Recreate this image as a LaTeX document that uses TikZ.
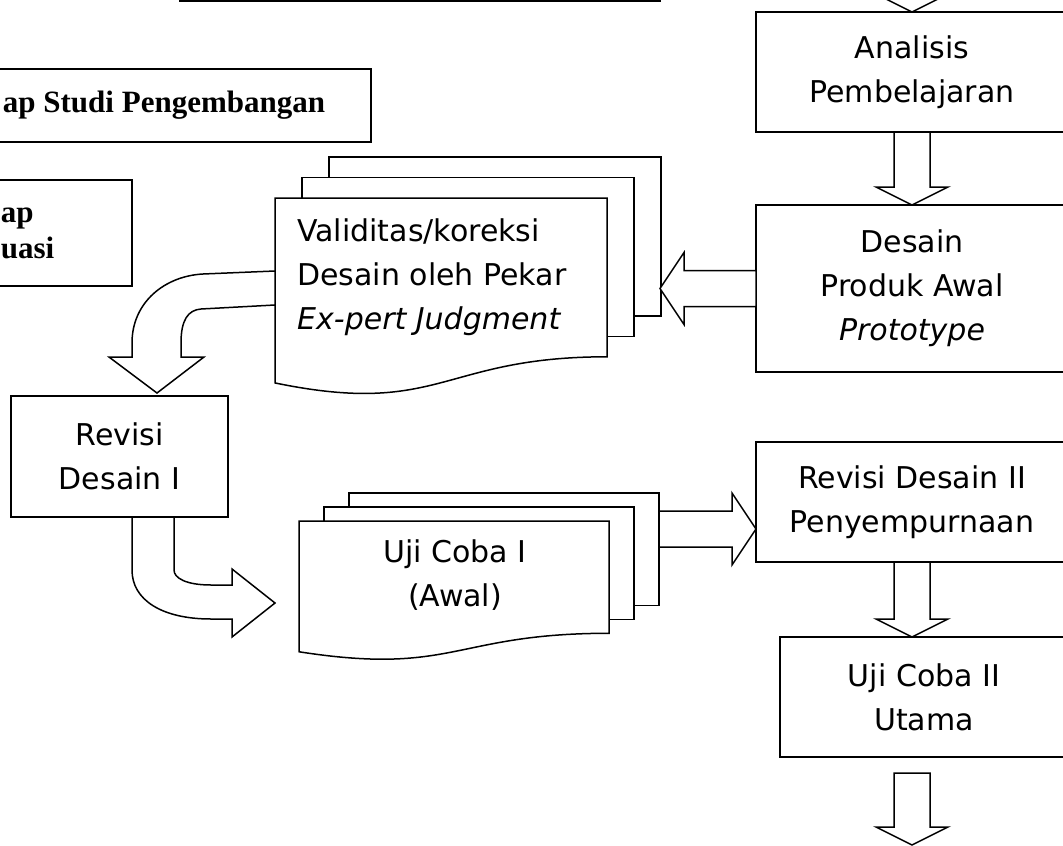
\documentclass[tikz,border=0pt]{standalone}
\usepackage{fontspec}
\setmainfont{Liberation Serif}
\newfontfamily\komik{DejaVu Sans}
\usetikzlibrary{positioning, calc}

\tikzstyle{kotak} = [rectangle, draw=black, line width=1.5pt, outer sep=0pt, align=center, font=\komik\fontsize{30}{44}\selectfont]
\tikzstyle{judul} = [rectangle, draw=black, line width=1.5pt, outer sep=0pt, align=left, font=\bfseries\fontsize{31}{36}\selectfont]
\tikzstyle{teks} = [inner sep=0pt, font=\komik\fontsize{30}{44}\selectfont]
\tikzstyle{blok} = [draw=black, line width=1.5pt, fill=white, line join=miter]
\tikzstyle{lembar} = [draw=black, line width=1.5pt, line join=miter]

% panah blok ke bawah: pangkal, ujung
\newcommand{\panahturun}[2]{%
  \draw[blok] ($(#1)+(-18,0)$) -- ($(#2)+(-18,-18)$) -- ($(#2)+(-36,-18)$) -- (#2)
    -- ($(#2)+(36,-18)$) -- ($(#2)+(18,-18)$) -- ($(#1)+(18,0)$) -- cycle;}
% panah blok mendatar: pangkal, ujung, arah (1 kanan, -1 kiri)
\newcommand{\panahdatar}[3]{%
  \draw[blok] ($(#1)+(0,-18)$) -- ($(#2)+({-24*(#3)},-18)$) -- ($(#2)+({-24*(#3)},-36)$) -- (#2)
    -- ($(#2)+({-24*(#3)},36)$) -- ($(#2)+({-24*(#3)},18)$) -- ($(#1)+(0,18)$) -- cycle;}
% tumpukan dokumen: x, y, lebar, tinggi, geser x, geser y
\newcommand{\tumpukan}[6]{%
  \draw[lembar] ({#1+2*#5},{#2-#6}) -- ({#1+2*#5},{#2-2*#6}) -- ({#1+#3+2*#5},{#2-2*#6})
    -- ({#1+#3+2*#5},{#2+0.802*#4-2*#6}) -- ({#1+#3+#5},{#2+0.802*#4-2*#6});
  \draw[lembar] ({#1+#5},#2) -- ({#1+#5},{#2-#6}) -- ({#1+#3+#5},{#2-#6})
    -- ({#1+#3+#5},{#2+0.802*#4-#6}) -- ({#1+#3},{#2+0.802*#4-#6});
  \draw[lembar] (#1,#2) -- ({#1+#3},#2) -- ({#1+#3},{#2+0.802*#4})
    .. controls ({#1+#3/2},{#2+0.802*#4}) and ({#1+#3/2},{#2+1.107*#4}) .. (#1,{#2+0.934*#4}) -- cycle;}

\begin{document}
\begin{tikzpicture}[x=1pt, y=-1pt]
    \useasboundingbox (0,0) rectangle (1063,846);
    \clip (0,0) rectangle (1063,846);

    % Kotak judul di kiri
    \node (atas) [judul, minimum width=480pt, minimum height=90pt] at (420,-44) {};
    \node (studi) [judul, minimum width=414pt, minimum height=73pt] at (164,105.5) {ap Studi Pengembangan};
    \node (evaluasi) [judul, minimum width=209pt, minimum height=106pt] at (27.5,233) {ap\\uasi};

    % Kolom kanan
    \node (analisis) [kotak, minimum width=312pt, minimum height=120pt] at (912,72) {Analisis\\Pembelajaran};
    \node (desain) [kotak, minimum width=312pt, minimum height=167pt, below=73pt of analisis] {Desain\\Produk Awal\\\textit{Prototype}};
    \node (revisi2) [kotak, minimum width=312pt, minimum height=120pt, below=70pt of desain] {Revisi Desain II\\Penyempurnaan};
    \node (uji2) [kotak, minimum width=288pt, minimum height=120pt, below=75pt of revisi2, xshift=12pt] {Uji Coba II\\Utama};

    % Kolom kiri
    \node (revisi1) [kotak, minimum width=217pt, minimum height=121pt] at (119.5,456.5) {Revisi\\Desain I};

    % Tumpukan dokumen
    \tumpukan{275}{198}{332}{198}{27}{20.5}
    \node (valid) [teks, align=left, anchor=west] at (297,277) {Validitas/koreksi\\Desain oleh Pekar\\\textit{Ex-pert Judgment}};
    \coordinate (valid-x) at (660,0);
    \coordinate (valid-kanan) at (desain.west -| valid-x);
    \tumpukan{299}{521}{310}{140}{25}{14}
    \node (uji1) [teks, align=center] at (455,575) {Uji Coba I\\(Awal)};
    \coordinate (uji1-kanan) at (659,529);

    % Panah lurus
    \coordinate (masuk) at ($(analisis.north)+(0,-60)$);
    \panahturun{masuk}{analisis.north}
    \panahturun{analisis.south}{desain.north}
    \panahdatar{desain.west}{valid-kanan}{-1}
    \coordinate (r2kiri) at (revisi2.west |- uji1-kanan);
    \panahdatar{uji1-kanan}{r2kiri}{1}
    \coordinate (u2atas) at (uji2.north -| revisi2.south);
    \panahturun{revisi2.south}{u2atas}
    \coordinate (bawah0) at (uji2.south -| revisi2.south);
    \coordinate (bawah1) at ($(bawah0)+(0,16)$);
    \coordinate (bawah2) at ($(bawah0)+(0,88)$);
    \panahturun{bawah1}{bawah2}

    % Panah lengkung
    \draw[blok] (275,271) -- (203,274) .. controls (165,276) and (132,302) .. (132,343) -- (132,357)
        -- (109,357) -- (157,393) -- (204,357) -- (181,357) -- (181,343)
        .. controls (181,320) and (188,310) .. (201,309) -- (275,305) -- cycle;
    \draw[blok] (132,517) -- (132,570) .. controls (132,600) and (162,619) .. (211,619) -- (232,619)
        -- (232,637) -- (275,603) -- (232,569) -- (232,585) -- (211,585)
        .. controls (186,585) and (174,578) .. (174,570) -- (174,517) -- cycle;
\end{tikzpicture}
\end{document}
